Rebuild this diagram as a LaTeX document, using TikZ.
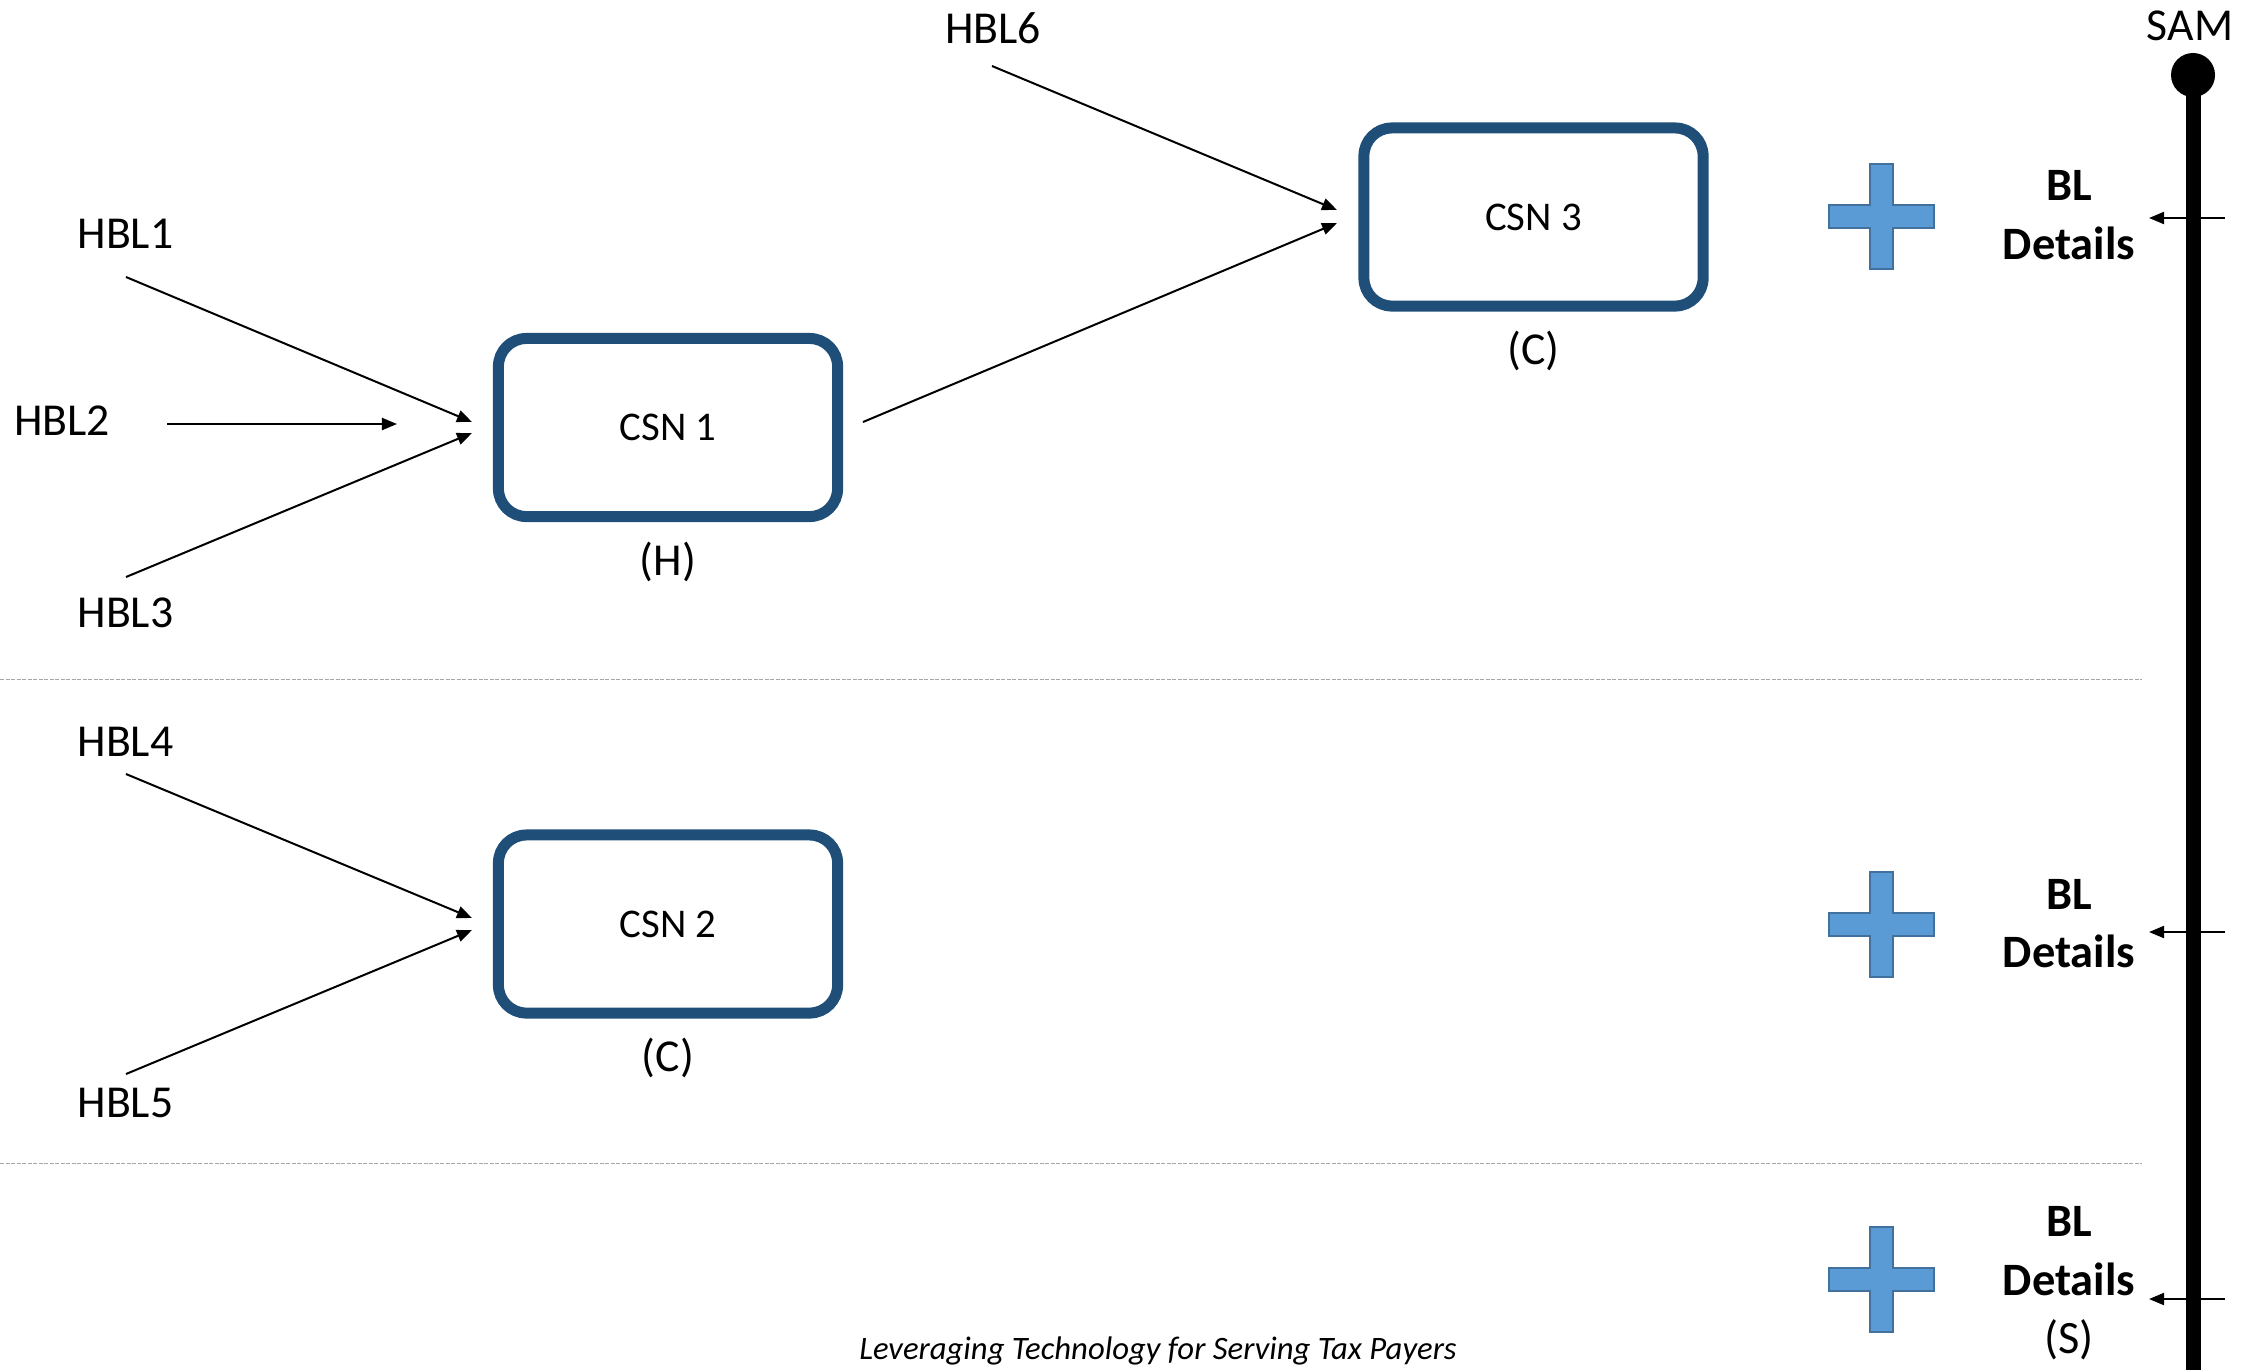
\documentclass[tikz,border=0pt]{standalone}
\usepackage{fontspec}
\setmainfont{Carlito}
\usetikzlibrary{arrows.meta}
\definecolor{csnblue}{HTML}{1F4E79}
\definecolor{plusfill}{HTML}{5B9BD5}
\definecolor{plusedge}{HTML}{41719C}
\definecolor{sepgray}{HTML}{A6A6A6}
\begin{document}
\begin{tikzpicture}[x=0.01cm,y=-0.01cm,
  lbl/.style={font=\fontsize{13}{16}\selectfont, inner sep=0pt, anchor=base},
  csn/.style={draw=csnblue, line width=0.11cm, rounded corners=0.28cm,
    minimum width=3.39cm, minimum height=1.78cm,
    font=\fontsize{11.6}{14}\selectfont, inner sep=0pt},
  conn/.style={line width=0.02cm, -{Triangle[length=0.15cm,width=0.12cm]}},
  bl/.style={font=\fontsize{13.2}{16.5}\selectfont\bfseries, align=center,
    inner sep=0pt, anchor=base},
  sep/.style={draw=sepgray, line width=0.01cm, dash pattern=on 0.04cm off 0.015cm},
  bluecross/.pic={
    \path[fill=plusfill, draw=plusedge, line width=0.012cm]
      (-11.5,-52.5) -- (11.5,-52.5) -- (11.5,-11.5) -- (52.5,-11.5) --
      (52.5,11.5) -- (11.5,11.5) -- (11.5,52.5) -- (-11.5,52.5) --
      (-11.5,11.5) -- (-52.5,11.5) -- (-52.5,-11.5) -- (-11.5,-11.5) -- cycle;
  },
]
\useasboundingbox (0,0) rectangle (2246,1369);

% separators
\coordinate (s1a) at (0,679);  \coordinate (s1b) at (2142,679);
\coordinate (s2a) at (0,1163); \coordinate (s2b) at (2142,1163);
\draw[sep] (s1a) -- (s1b);
\draw[sep] (s2a) -- (s2b);

% CSN boxes
\node[csn] (csn1) at (668,427.5) {CSN 1};
\node[csn] (csn2) at (668,924) {CSN 2};
\node[csn] (csn3) at (1533.5,217) {CSN 3};
\node[lbl] (h1) at (668,575) {(H)};
\node[lbl] (c2) at (668,1071) {(C)};
\node[lbl] (c3) at (1533.5,364) {(C)};

% HBL labels
\node[lbl] (hbl1) at (125.5,248) {HBL1};
\node[lbl] (hbl2) at (62,435) {HBL2};
\node[lbl] (hbl3) at (125.5,627) {HBL3};
\node[lbl] (hbl4) at (125.5,756) {HBL4};
\node[lbl] (hbl5) at (125.5,1117) {HBL5};
\node[lbl] (hbl6) at (993,43) {HBL6};

% connector ends
\coordinate (a1s) at (126,277);  \coordinate (a1e) at (472,422);
\coordinate (a2s) at (167,424);  \coordinate (a2e) at (397,424);
\coordinate (a3s) at (126,577);  \coordinate (a3e) at (472,433);
\coordinate (a4s) at (126,774);  \coordinate (a4e) at (472,918);
\coordinate (a5s) at (126,1074); \coordinate (a5e) at (472,930);
\coordinate (a6s) at (992,66);   \coordinate (a6e) at (1337,210);
\coordinate (a7s) at (863,422);  \coordinate (a7e) at (1337,223);
\draw[conn] (a1s) -- (a1e);
\draw[conn] (a2s) -- (a2e);
\draw[conn] (a3s) -- (a3e);
\draw[conn] (a4s) -- (a4e);
\draw[conn] (a5s) -- (a5e);
\draw[conn] (a6s) -- (a6e);
\draw[conn] (a7s) -- (a7e);

% plus signs
\pic at (1881.5,216.5) {bluecross};
\pic at (1881.5,924.5) {bluecross};
\pic at (1881.5,1279.5) {bluecross};

% BL details (anchor = baseline of last line)
\node[bl] (bl1) at (2069,259) {BL\\Details};
\node[bl] (bl2) at (2069,967) {BL\\Details};
\node[bl] (bl3) at (2069,1353) {BL\\Details\\{\mdseries (S)}};

% SAM line
\node[lbl] (sam) at (2190,40) {SAM};
\node[circle, fill=black, inner sep=0pt, minimum size=0.44cm] (samdot) at (2193,75) {};
\coordinate (sambot) at (2193,1390);
\draw[line width=0.15cm] (samdot.center) -- (sambot);

% arrows from SAM line
\coordinate (r1) at (2225,218);  \coordinate (l1) at (2149,218);
\coordinate (r2) at (2225,932);  \coordinate (l2) at (2149,932);
\coordinate (r3) at (2225,1299); \coordinate (l3) at (2149,1299);
\draw[conn] (r1) -- (l1);
\draw[conn] (r2) -- (l2);
\draw[conn] (r3) -- (l3);

% footer
\node[font=\fontsize{9.3}{11}\selectfont\itshape, inner sep=0pt, anchor=base] (footer)
  at (1158,1359) {Leveraging Technology for Serving Tax Payers};
\end{tikzpicture}
\end{document}
